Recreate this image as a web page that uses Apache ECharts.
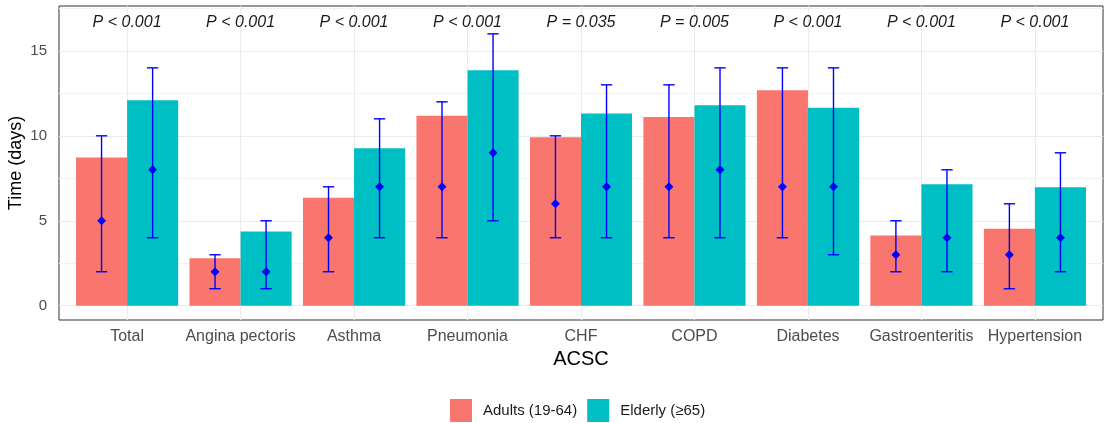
<!DOCTYPE html>
<html>
<head>
<meta charset="utf-8">
<script src="https://cdn.jsdelivr.net/npm/echarts@6/dist/echarts.min.js"></script>
<style>
  html, body { margin: 0; padding: 0; background: #ffffff; }
  #chart { width: 1106px; height: 423px; }
</style>
</head>
<body>
<div id="chart"></div>
<script>
// categories and values
var categories = ['Total', 'Angina pectoris', 'Asthma', 'Pneumonia', 'CHF', 'COPD', 'Diabetes', 'Gastroenteritis', 'Hypertension'];
var adultsMean = [8.72, 2.8, 6.36, 11.18, 9.92, 11.1, 12.68, 4.13, 4.53];
var elderlyMean = [12.1, 4.37, 9.27, 13.86, 11.32, 11.8, 11.65, 7.15, 6.97];
var adultsMedian = [5, 2, 4, 7, 6, 7, 7, 3, 3];
var adultsLow = [2, 1, 2, 4, 4, 4, 4, 2, 1];
var adultsHigh = [10, 3, 7, 12, 10, 13, 14, 5, 6];
var elderlyMedian = [8, 2, 7, 9, 7, 8, 7, 4, 4];
var elderlyLow = [4, 1, 4, 5, 4, 4, 3, 2, 2];
var elderlyHigh = [14, 5, 11, 16, 13, 14, 14, 8, 9];
var pLabels = ['P < 0.001', 'P < 0.001', 'P < 0.001', 'P < 0.001', 'P = 0.035', 'P = 0.005', 'P < 0.001', 'P < 0.001', 'P < 0.001'];
var pLabelY = 16.65;
var yTicks = [0, 5, 10, 15];
var yMinorTicks = [2.5, 7.5, 12.5, 17.5];

var FONT = 'Liberation Sans, Arial, sans-serif';
var RED = '#F8766D';
var TEAL = '#00BFC4';

var catIndex = categories.map(function (c, i) { return i; });

function pairs(arr) {
	return arr.map(function (v, i) { return [i, v]; });
}

// error bar + diamond, dodged left (-1) or right (+1)
function errorSeries(name, low, mid, high, side) {
	return {
		type: 'custom',
		name: name,
		silent: true,
		z: 5,
		data: categories.map(function (c, i) { return [i, low[i], mid[i], high[i]]; }),
		encode: { x: 0, y: [1, 2, 3] },
		renderItem: function (params, api) {
			var band = api.size([1, 0])[0];
			var lo = api.coord([api.value(0), api.value(1)]);
			var md = api.coord([api.value(0), api.value(2)]);
			var hi = api.coord([api.value(0), api.value(3)]);
			var x = lo[0] + side * band * 0.225;
			var cap = band * 0.05;
			var r = 4.5;
			var st = { stroke: '#0000ff', lineWidth: 1.4, fill: null };
			return {
				type: 'group',
				children: [
					{ type: 'line', shape: { x1: x, y1: lo[1], x2: x, y2: hi[1] }, style: st },
					{ type: 'line', shape: { x1: x - cap, y1: lo[1], x2: x + cap, y2: lo[1] }, style: st },
					{ type: 'line', shape: { x1: x - cap, y1: hi[1], x2: x + cap, y2: hi[1] }, style: st },
					{ type: 'polygon', shape: { points: [[x, md[1] - r], [x + r, md[1]], [x, md[1] + r], [x - r, md[1]]] }, style: { fill: '#0000ff' } }
				]
			};
		}
	};
}

var gridLines = [];
yTicks.forEach(function (v) {
	gridLines.push({ yAxis: v, lineStyle: { color: '#ebebeb', width: 1.1, type: 'solid' } });
});
yMinorTicks.forEach(function (v) {
	gridLines.push({ yAxis: v, lineStyle: { color: '#f2f2f2', width: 1, type: 'solid' } });
});
catIndex.forEach(function (i) {
	gridLines.push({ xAxis: i, lineStyle: { color: '#ebebeb', width: 1.1, type: 'solid' } });
});

var option = {
	animation: false,
	backgroundColor: '#ffffff',
	grid: {
		left: 59,
		right: 3,
		top: 6,
		bottom: 103,
		outerBoundsMode: 'none',
		containLabel: false,
		show: true,
		backgroundColor: '#ffffff',
		borderColor: '#333333',
		borderWidth: 1
	},
	legend: {
		left: 445,
		top: 394,
		itemWidth: 22,
		itemHeight: 23,
		itemGap: 10,
		icon: 'rect',
		data: ['Adults (19-64)', 'Elderly (≥65)'],
		textStyle: {
			fontFamily: FONT,
			fontSize: 15,
			color: '#1a1a1a',
			padding: [0, 0, 0, 6]
		}
	},
	xAxis: {
		type: 'value',
		min: -0.6,
		max: 8.6,
		name: 'ACSC',
		nameLocation: 'middle',
		nameGap: 28,
		nameTextStyle: { fontFamily: FONT, fontSize: 20, color: '#000000' },
		axisLine: { show: false },
		axisTick: { show: true, length: 4, customValues: catIndex, lineStyle: { color: '#333333' } },
		axisLabel: {
			customValues: catIndex,
			formatter: function (v) { return categories[Math.round(v)]; },
			fontFamily: FONT,
			fontSize: 16,
			color: '#4d4d4d',
			margin: 9
		},
		splitLine: { show: false }
	},
	yAxis: {
		type: 'value',
		min: -0.84,
		max: 17.64,
		name: 'Time (days)',
		nameLocation: 'middle',
		nameGap: 34,
		nameMoveOverlap: false,
		nameTextStyle: { fontFamily: FONT, fontSize: 18, color: '#000000' },
		axisLine: { show: false },
		axisTick: { show: true, length: 4, customValues: yTicks, lineStyle: { color: '#333333' } },
		axisLabel: {
			customValues: yTicks,
			fontFamily: FONT,
			fontSize: 15,
			color: '#4d4d4d',
			margin: 12
		},
		splitLine: { show: false }
	},
	series: [
		{
			type: 'line',
			name: 'grid',
			data: [],
			z: 1,
			silent: true,
			markLine: { silent: true, z: 1, symbol: 'none', label: { show: false }, animation: false, data: gridLines }
		},
		{
			type: 'bar',
			name: 'Adults (19-64)',
			data: pairs(adultsMean),
			barGap: '0%',
			barCategoryGap: '10%',
			itemStyle: { color: RED },
			z: 2,
			silent: true
		},
		{
			type: 'bar',
			name: 'Elderly (≥65)',
			data: pairs(elderlyMean),
			barGap: '0%',
			barCategoryGap: '10%',
			itemStyle: { color: TEAL },
			z: 2,
			silent: true
		},
		errorSeries('Adults IQR', adultsLow, adultsMedian, adultsHigh, -1),
		errorSeries('Elderly IQR', elderlyLow, elderlyMedian, elderlyHigh, 1),
		{
			type: 'custom',
			name: 'P values',
			silent: true,
			z: 6,
			data: pLabels.map(function (t, i) { return [i, pLabelY]; }),
			renderItem: function (params, api) {
				var p = api.coord([api.value(0), api.value(1)]);
				return {
					type: 'text',
					style: {
						text: pLabels[params.dataIndex],
						x: p[0],
						y: p[1],
						align: 'center',
						verticalAlign: 'middle',
						font: 'italic 16px ' + FONT,
						fill: '#1a1a1a'
					}
				};
			}
		}
	]
};

var myChart = echarts.init(document.getElementById('chart'));
myChart.setOption(option);
</script>
</body>
</html>
